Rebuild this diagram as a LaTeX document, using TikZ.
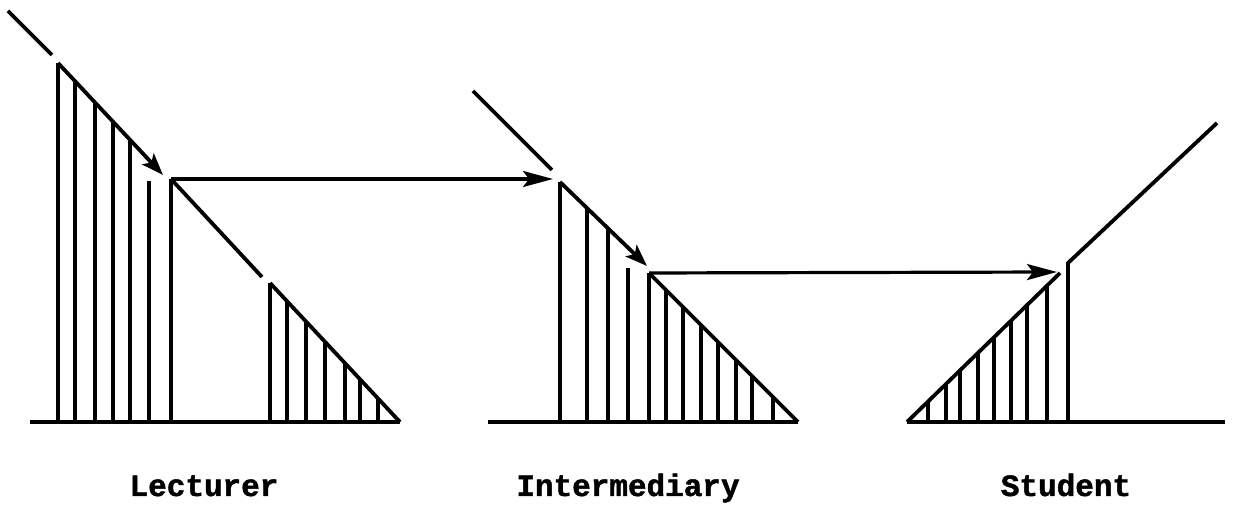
\documentclass[tikz,border=0pt]{standalone}
\usepackage{fontspec}
\setmonofont[BoldFeatures={FakeBold=1.5}]{Liberation Mono}
\usetikzlibrary{arrows.meta}

\begin{document}
\begin{tikzpicture}[
  x=0.5pt, y=-0.5pt,
  stroke/.style={line width=1.9pt},
  tick/.style={line width=1.6pt},
  pass/.style={line width=1.6pt, -{Stealth[length=15pt, width=8pt, inset=3pt]}},
  drift/.style={line width=1.9pt, -{Stealth[length=11pt, width=8pt, inset=2.5pt]}},
  role/.style={font=\ttfamily\bfseries\fontsize{15.5}{18}\selectfont, anchor=base}
]
\useasboundingbox (0,0) rectangle (1233,506);

% lecturer
\coordinate (lecIn)   at (8,11);
\coordinate (lecPre)  at (52,55);
\coordinate (lecTop)  at (58,63);
\coordinate (lecTip)  at (163,175);
\coordinate (lecOut)  at (171,179);
\coordinate (lecGap)  at (262,277);
\coordinate (lecLow)  at (270,283);
\coordinate (lecEnd)  at (400,422);
\coordinate (lecBase) at (30,422);

\draw[stroke] (lecIn) -- (lecPre);
\draw[drift] (lecTop) -- (lecTip);
\draw[stroke] (lecOut) -- (lecGap);
\draw[stroke] (lecLow) -- (lecEnd);
\draw[stroke] (lecBase) -- (lecEnd);
\draw[tick] (lecTop) -- (58,422);
\foreach \x/\y in {75/82, 95/103, 113/123, 130/141}
  \draw[tick] (\x,422) -- (\x,\y);
\draw[tick] (149,422) -- (149,181);
\draw[tick] (lecOut) -- (171,422);
\foreach \x in {287,306,325,345,360,378}
  \draw[tick] (\x,422) -- (\x,{283+(\x-270)*1.07});
\draw[tick] (lecLow) -- (270,422);

% intermediary
\coordinate (midIn)   at (473,91);
\coordinate (midPre)  at (552,170);
\coordinate (midHit)  at (553,179);
\coordinate (midTop)  at (560,182);
\coordinate (midTip)  at (647,266);
\coordinate (midOut)  at (649,273);
\coordinate (midEnd)  at (798,422);
\coordinate (midBase) at (488,422);

\draw[pass] (lecOut) -- (midHit);
\draw[stroke] (midIn) -- (midPre);
\draw[drift] (midTop) -- (midTip);
\draw[stroke] (midOut) -- (midEnd);
\draw[stroke] (midBase) -- (midEnd);
\draw[tick] (midTop) -- (560,422);
\foreach \x/\y in {587/208, 608/229}
  \draw[tick] (\x,422) -- (\x,\y);
\draw[tick] (628,422) -- (628,268);
\draw[tick] (midOut) -- (649,422);
\foreach \x in {666,683,701,718,736,752,773}
  \draw[tick] (\x,422) -- (\x,{274+(\x-649)*0.99});

% student
\coordinate (stuBase) at (907,422);
\coordinate (stuRim)  at (1060,273);
\coordinate (stuHit)  at (1057,272);
\coordinate (stuKnee) at (1068,263);
\coordinate (stuOut)  at (1217,123);
\coordinate (stuEnd)  at (1225,422);

\draw[pass] (midOut) -- (stuHit);
\draw[stroke] (stuBase) -- (stuEnd);
\draw[stroke] (stuBase) -- (stuRim);
\foreach \x in {928,946,960,978,994,1011,1027,1047}
  \draw[tick] (\x,422) -- (\x,{422-(\x-907)*0.974});
\draw[stroke] (1068,422) -- (stuKnee) -- (stuOut);

\node[role] (lec) at (204,496) {Lecturer};
\node[role] (mid) at (628,496) {Intermediary};
\node[role] (stu) at (1066,496) {Student};
\end{tikzpicture}
\end{document}
